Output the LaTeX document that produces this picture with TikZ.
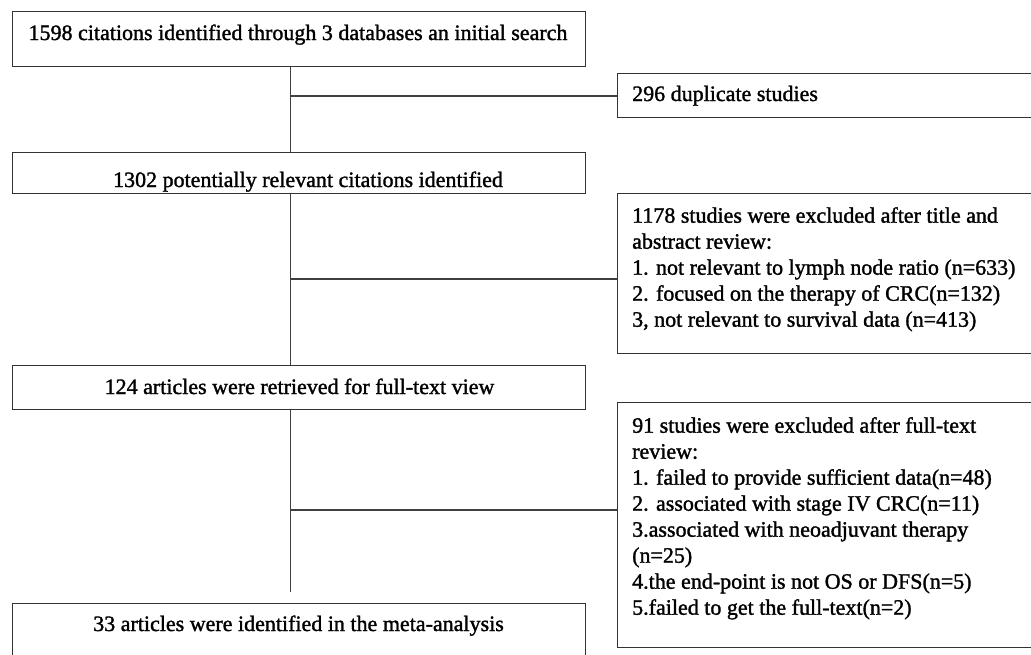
\documentclass[tikz,border=0pt]{standalone}
\usepackage{fontspec}
\setmainfont{Liberation Serif}[FakeBold=1.4]
\begin{document}
\begin{tikzpicture}[x=1pt,y=-1pt,
  box/.style={draw=black!80, line width=1.3pt, inner sep=0pt, anchor=north west},
  mtxt/.style={font=\fontsize{22}{26}\selectfont, inner sep=0pt, anchor=base},
  ltxt/.style={font=\fontsize{22}{26}\selectfont, inner sep=0pt, anchor=north west, align=left},
  conn/.style={draw=black!75, line width=1.2pt}]
\useasboundingbox (0,0) rectangle (1031,654);
\clip (0,0) rectangle (1031,654);
% main boxes
\node[box, minimum width=573pt, minimum height=55pt] (b1) at (12,11) {};
\node[box, minimum width=573pt, minimum height=41pt] (b2) at (12,152) {};
\node[box, minimum width=573pt, minimum height=44pt] (b3) at (12,365) {};
\node[box, minimum width=573pt, minimum height=60pt] (b4) at (12,603) {};
% side boxes
\node[box, minimum width=430pt, minimum height=44pt] (e1) at (617,73) {};
\node[box, minimum width=430pt, minimum height=160pt] (e2) at (617,193) {};
\node[box, minimum width=430pt, minimum height=245pt] (e3) at (617,402) {};
% texts
\node[mtxt] (t1) at (298,40) {1598 citations identified through 3 databases an initial search};
\node[mtxt] (t2) at (308,187) {1302 potentially relevant citations identified};
\node[mtxt] (t3) at (299.5,394) {124 articles were retrieved for full-text view};
\node[mtxt] (t4) at (298.5,631) {33 articles were identified in the meta-analysis};
\node[font=\fontsize{22}{26}\selectfont, inner sep=0pt, anchor=base west] (t5) at (632,101) {296 duplicate studies};
\node[ltxt] (t6) at (632,207) {1178 studies were excluded after title and\\abstract review:\\1. not relevant to lymph node ratio (n=633)\\2. focused on the therapy of CRC(n=132)\\3, not relevant to survival data (n=413)};
\node[ltxt] (t7) at (632,417) {91 studies were excluded after full-text\\review:\\1. failed to provide sufficient data(n=48)\\2. associated with stage IV CRC(n=11)\\3.associated with neoadjuvant therapy\\(n=25)\\4.the end-point is not OS or DFS(n=5)\\5.failed to get the full-text(n=2)};
% connectors
\coordinate (sp) at (290.5,0);
\coordinate (j1) at (290.5,96);
\coordinate (j2) at (290.5,279);
\coordinate (j3) at (290.5,510);
\coordinate (end) at (290.5,592);
\draw[conn] (b1.south -| sp) -- (b2.north -| sp);
\draw[conn] (b2.south -| sp) -- (b3.north -| sp);
\draw[conn] (b3.south -| sp) -- (end);
\draw[conn] (j1) -- (j1 -| e1.west);
\draw[conn] (j2) -- (j2 -| e2.west);
\draw[conn] (j3) -- (j3 -| e3.west);
\end{tikzpicture}
\end{document}
